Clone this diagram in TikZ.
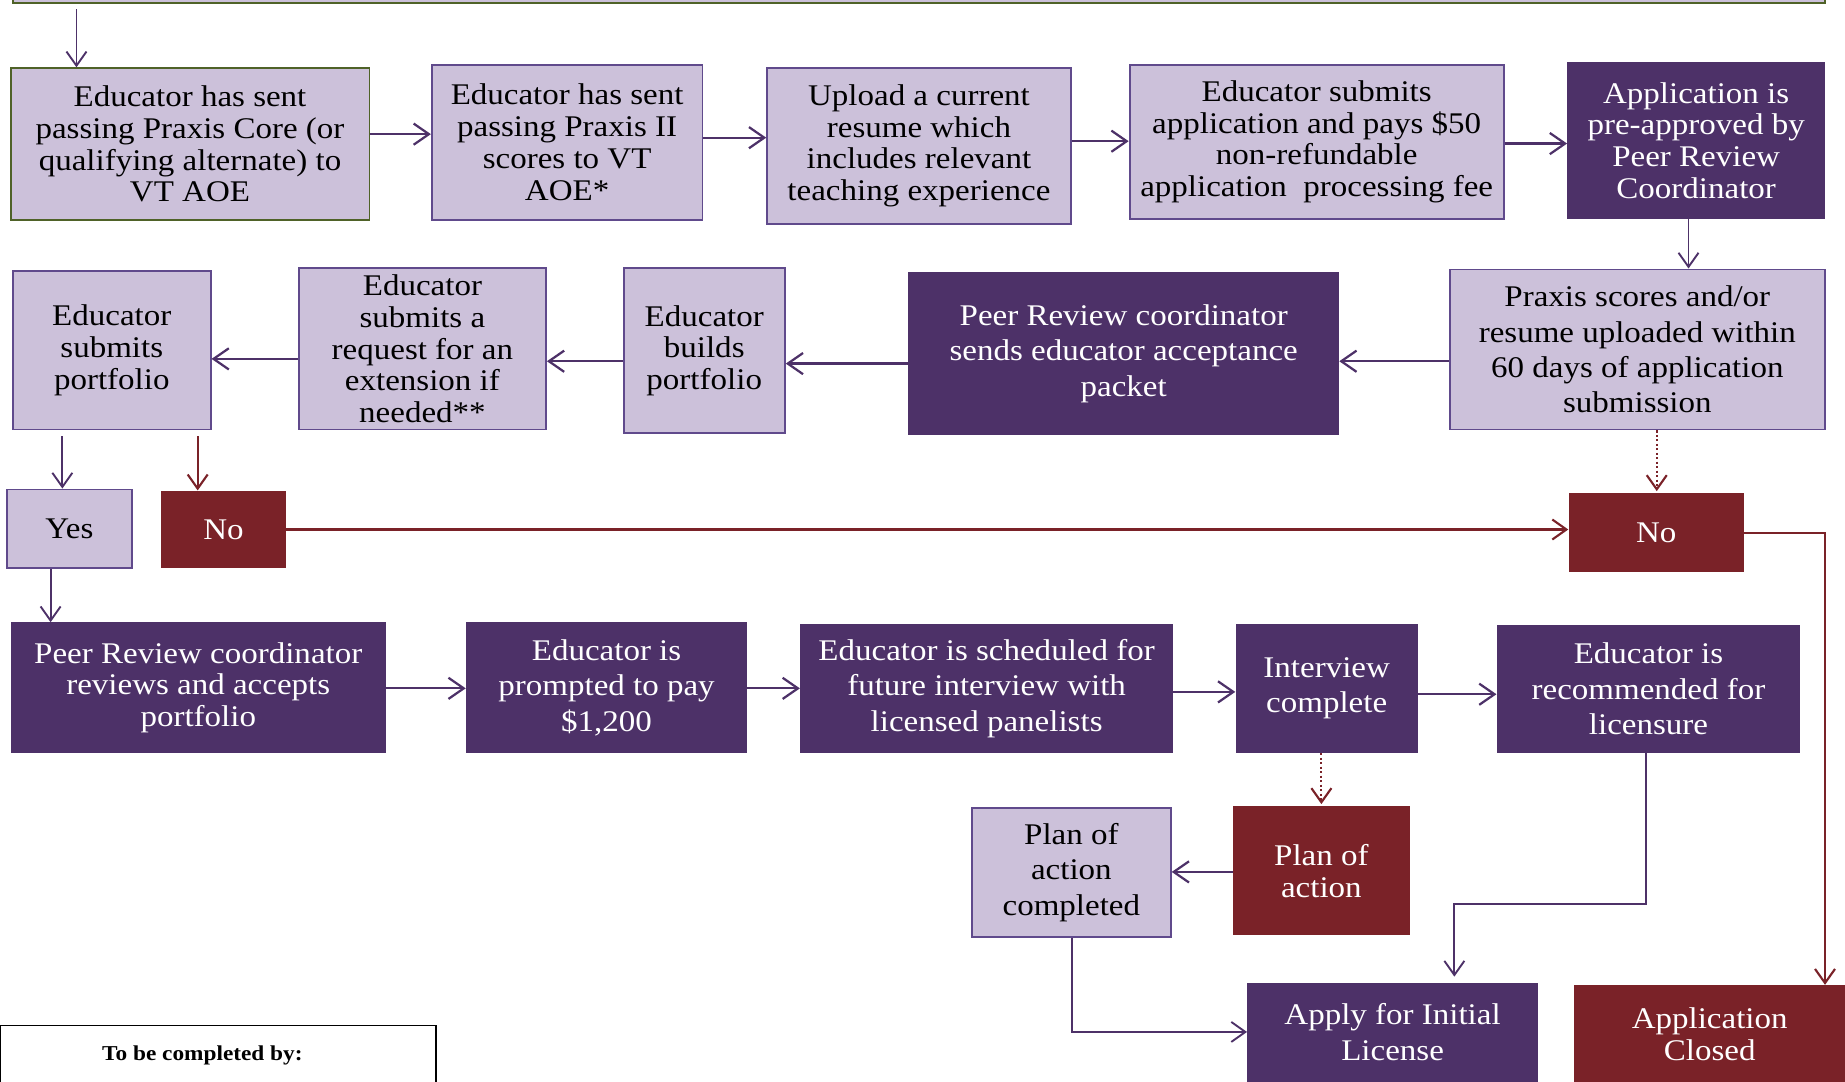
\documentclass[tikz,border=0pt]{standalone}
\usepackage{fontspec}
\setmainfont{Liberation Serif}[FakeStretch=1.1]
\usetikzlibrary{arrows.meta}
\definecolor{lightp}{RGB}{204,193,218}
\definecolor{darkp}{RGB}{77,49,104}
\definecolor{redb}{RGB}{122,34,40}
\definecolor{pborder}{RGB}{96,74,140}
\definecolor{gborder}{RGB}{79,98,40}
\tikzset{
  boxbase/.style={rectangle, align=center, inner sep=2pt,
     font=\fontsize{25.5}{27}\selectfont},
  wide/.style={font=\fontsize{25.5}{30}\selectfont},
  lbox/.style={boxbase, fill=lightp, draw=pborder, line width=1.6pt, text=black},
  gbox/.style={boxbase, fill=lightp, draw=gborder, line width=1.6pt, text=black},
  dbox/.style={boxbase, fill=darkp, text=white},
  rbox/.style={boxbase, fill=redb, text=white},
  parr/.style={draw=darkp, line width=1.9pt, -{Straight Barb[length=13pt,width=18pt,line width=1.9pt]}},
  tparr/.style={draw=darkp, line width=1.6pt, -{Straight Barb[length=12pt,width=17pt,line width=1.6pt]}},
  rarr/.style={draw=redb, line width=1.8pt, -{Straight Barb[length=12pt,width=17pt,line width=1.8pt]}},
  dotarr/.style={draw=redb, line width=1.8pt, dotted, -{Straight Barb[length=12pt,width=17pt,line width=1.8pt,sep]}},
}
\begin{document}
\begin{tikzpicture}[x=1pt,y=-1pt]
\useasboundingbox (0,0) rectangle (1568,919);
\clip (0,0) rectangle (1568,919);
\fill[white] (0,0) rectangle (1568,919);

% top bar
\node[gbox, minimum width=1540pt, minimum height=40pt, anchor=south west] (top) at (10,3) {};

% row 1
\node[gbox, minimum width=305pt, minimum height=129pt] (b1) at (161.5,122.5)
  {Educator has sent\\passing Praxis Core (or\\qualifying alternate) to\\VT AOE};
\node[lbox, minimum width=230pt, minimum height=132pt] (b2) at (482,121)
  {Educator has sent\\passing Praxis II\\scores to VT\\AOE*};
\node[lbox, minimum width=258pt, minimum height=132pt] (b3) at (781,124)
  {Upload a current\\resume which\\includes relevant\\teaching experience};
\node[lbox, minimum width=318pt, minimum height=131pt] (b4) at (1119,120.5)
  {Educator submits\\application and pays \$50\\non-refundable\\application\ \ processing fee};
\node[dbox, minimum width=219pt, minimum height=133pt] (b5) at (1441.5,119.5)
  {Application is\\pre-approved by\\Peer Review\\Coordinator};

% row 2
\node[lbox, wide, minimum width=319pt, minimum height=136pt] (b6) at (1391.5,297)
  {Praxis scores and/or\\resume uploaded within\\60 days of application\\submission};
\node[dbox, wide, minimum width=366pt, minimum height=139pt] (b7) at (955,300.5)
  {Peer Review coordinator\\sends educator acceptance\\packet};
\node[lbox, minimum width=137pt, minimum height=140pt] (b8) at (598.5,298)
  {Educator\\builds\\portfolio};
\node[lbox, minimum width=210pt, minimum height=137pt] (b9) at (359,296.5)
  {Educator\\submits a\\request for an\\extension if\\needed**};
\node[lbox, minimum width=168pt, minimum height=135pt] (b10) at (95,297.5)
  {Educator\\submits\\portfolio};

% row 3
\node[lbox, minimum width=106pt, minimum height=67pt] (yes) at (59,449.5) {Yes};
\node[rbox, minimum width=106pt, minimum height=66pt] (no1) at (190,450) {No};
\node[rbox, minimum width=149pt, minimum height=67pt] (no2) at (1407.5,452.5) {No};

% row 4
\node[dbox, minimum width=319pt, minimum height=111pt] (c1) at (168.5,584.5)
  {Peer Review coordinator\\reviews and accepts\\portfolio};
\node[dbox, wide, minimum width=239pt, minimum height=111pt] (c2) at (515.5,584.5)
  {Educator is\\prompted to pay\\\$1,200};
\node[dbox, wide, minimum width=317pt, minimum height=110pt] (c3) at (838.5,585)
  {Educator is scheduled for\\future interview with\\licensed panelists};
\node[dbox, wide, minimum width=155pt, minimum height=110pt] (c4) at (1127.5,585)
  {Interview\\complete};
\node[dbox, wide, minimum width=258pt, minimum height=109pt] (c5) at (1401,585.5)
  {Educator is\\recommended for\\licensure};

% row 5
\node[rbox, minimum width=150pt, minimum height=110pt] (poa) at (1123,740) {Plan of\\action};
\node[lbox, wide, minimum width=169pt, minimum height=109pt] (poac) at (910.5,741.5) {Plan of\\action\\completed};
\node[dbox, wide, minimum width=247pt, minimum height=84pt, anchor=north] (ail) at (1183.5,835)
  {Apply for Initial\\License};
\node[rbox, minimum width=230pt, minimum height=84pt, anchor=north] (closed) at (1453,837)
  {Application\\Closed};

% legend box
\node[draw=black, line width=1pt, fill=white, minimum width=370pt, minimum height=80pt,
      anchor=north west, inner sep=0pt] (legend) at (0,871) {};
\node[font=\fontsize{18}{20}\selectfont\bfseries] (legtxt) at (172,897) {To be completed by:};

% helper coordinates
\coordinate (x65) at (65,0);
\coordinate (x1435) at (1435,0);
\coordinate (x53) at (53,0);
\coordinate (x168) at (168,0);
\coordinate (x1408) at (1408,0);
\coordinate (x43) at (43,0);
\coordinate (x1123) at (1123,0);
\coordinate (x1551) at (1551,0);
\coordinate (x1399) at (1399,0);
\coordinate (x1236) at (1236,0);
\coordinate (x911) at (911,0);
\coordinate (k1) at (1399,768);
\coordinate (k2) at (1236,768);
\coordinate (k3) at (911,877);
\coordinate (y114) at (0,114);
\coordinate (y117) at (0,117);
\coordinate (y120) at (0,120);
\coordinate (y122) at (0,122);
\coordinate (y305) at (0,305);
\coordinate (y307) at (0,307);
\coordinate (y309) at (0,309);
\coordinate (y450) at (0,450);
\coordinate (y453) at (0,453);
\coordinate (y585) at (0,585);
\coordinate (y588) at (0,588);
\coordinate (y590) at (0,590);
\coordinate (y741) at (0,741);

% arrows
\draw[tparr] ([yshift=-5pt]top.south -| x65) -- (b1.north -| x65);
\draw[parr] (b1.east |- y114) -- (b2.west |- y114);
\draw[parr] (b2.east |- y117) -- (b3.west |- y117);
\draw[parr] (b3.east |- y120) -- (b4.west |- y120);
\draw[parr] (b4.east |- y122) -- (b5.west |- y122);
\draw[tparr] (b5.south -| x1435) -- (b6.north -| x1435);
\draw[parr] (b6.west |- y307) -- (b7.east |- y307);
\draw[parr] (b7.west |- y309) -- (b8.east |- y309);
\draw[parr] (b8.west |- y307) -- (b9.east |- y307);
\draw[parr] (b9.west |- y305) -- (b10.east |- y305);
\draw[tparr] ([yshift=-5pt]b10.south -| x53) -- (yes.north -| x53);
\draw[rarr] ([yshift=-5pt]b10.south -| x168) -- (no1.north -| x168);
\draw[rarr] (no1.east |- y450) -- (no2.west |- y450);
\draw[dotarr] (b6.south -| x1408) -- (no2.north -| x1408);
\draw[rarr] (no2.east |- y453) -| (closed.north -| x1551);
\draw[tparr] (yes.south -| x43) -- (c1.north -| x43);
\draw[parr] (c1.east |- y585) -- (c2.west |- y585);
\draw[parr] (c2.east |- y585) -- (c3.west |- y585);
\draw[parr] (c3.east |- y588) -- (c4.west |- y588);
\draw[parr] (c4.east |- y590) -- (c5.west |- y590);
\draw[dotarr] (c4.south -| x1123) -- (poa.north -| x1123);
\draw[parr] (poa.west |- y741) -- (poac.east |- y741);
\draw[tparr] (c5.south -| x1399) -- (k1) -- (k2) -- ([yshift=5pt]ail.north -| x1236);
\draw[tparr] (poac.south -| x911) -- (k3) -- (k3 -| ail.west);
\end{tikzpicture}
\end{document}
